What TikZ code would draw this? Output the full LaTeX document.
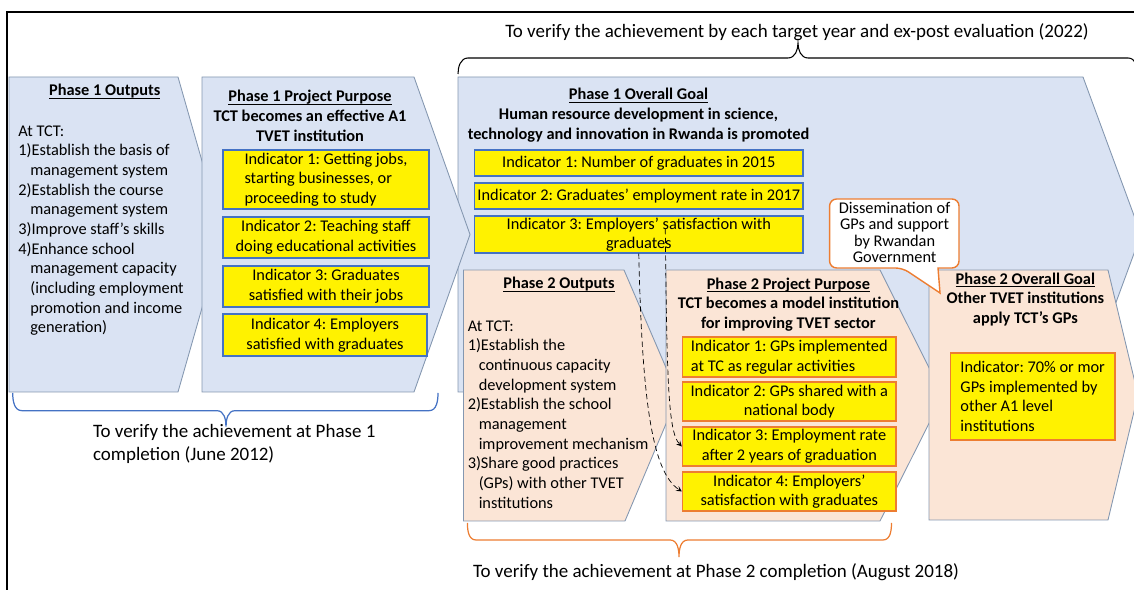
\documentclass[tikz,border=0pt]{standalone}
\usepackage{fontspec}
\setmainfont{Carlito}
\frenchspacing
\definecolor{bluef}{HTML}{DAE3F3}
\definecolor{peachf}{HTML}{FBE5D6}
\definecolor{edgec}{HTML}{8497B0}
\definecolor{indblue}{HTML}{4472C4}
\definecolor{indorange}{HTML}{ED7D31}
\newcommand\ttl[1]{\underline{\smash{\textbf{#1}}}\vphantom{A}}
\newcommand\tightfont{\fontsize{9.3}{9.3}\selectfont\lineskiplimit=-5pt\relax}
\tikzset{>=stealth}
\tikzset{
  bluepent/.style={draw=edgec, fill=bluef, line width=0.5pt},
  peachpent/.style={draw=edgec, fill=peachf, line width=0.5pt},
  indb/.style={draw=indblue, fill=yellow, line width=0.8pt, inner sep=0pt},
  indo/.style={draw=indorange, fill=yellow, line width=0.8pt, inner sep=0pt},
  txt/.style={inner sep=0pt},
  big/.style={inner sep=0pt, font=\fontsize{10.8}{13}\selectfont},
  dasharr/.style={densely dashed, ->, line width=0.4pt},
}

\begin{document}
\begin{tikzpicture}[x=0.02cm, y=-0.02cm, font=\fontsize{9.3}{11.2}\selectfont]
    \useasboundingbox (0,0) rectangle (1134,590);
    \clip (0,0) rectangle (1134,590);
    \draw[line width=1pt] (7,600) -- (7,12) -- (1150,12);
    \draw[line width=0.6pt] (458,74) to[out=90,in=180] (468,58) -- (788,58) to[out=0,in=-90] (798,43)
        to[out=-90,in=180] (808,58) -- (1128,58) to[out=0,in=90] (1138,74);
    \node[big] (T3) at (797,31.7) {To verify the achievement by each target year and ex-post evaluation (2022)};

    \draw[bluepent] (458,77) -- (1083,77) -- (1141,234.5) -- (1083,392) -- (458,392) -- cycle;
    \draw[bluepent] (9,77) -- (178,77) -- (223,234.5) -- (178,392) -- (9,392) -- cycle;
    \draw[bluepent] (202,77) -- (414,77) -- (470,234.5) -- (414,392) -- (202,392) -- cycle;
    \draw[peachpent] (463.5,270) -- (624,270) -- (678,395.5) -- (625,521) -- (463.5,521) -- cycle;
    \draw[peachpent] (666,270) -- (880,270) -- (943,395.5) -- (880,521) -- (666,521) -- cycle;
    \draw[peachpent] (929,270) -- (1108,270) -- (1138,395) -- (1108,520) -- (929,520) -- cycle;

    \node[txt] (PO) at (104.7,92) {\ttl{Phase 1 Outputs}};
    \node[txt, align=left, anchor=west] (POL) at (18,230.5) {At TCT:\\1)Establish the basis of\\\hspace*{0.24cm}management system\\
        2)Establish the course\\\hspace*{0.24cm}management system\\3)Improve staff’s skills\\4)Enhance school\\
        \hspace*{0.24cm}management capacity\\\hspace*{0.24cm}(including employment\\\hspace*{0.24cm}promotion and income\\
        \hspace*{0.24cm}generation)};

    \node[txt, align=center] (PP) at (310,116.5) {\ttl{Phase 1 Project Purpose}\\\textbf{TCT becomes an effective A1}\\\textbf{TVET institution}};
    \node[indb, align=left, minimum width=4.12cm, minimum height=1.18cm] (PI1) at (326,179.5) {Indicator 1: Getting jobs,\\starting businesses, or\\proceeding to study};
    \node[indb, align=center, minimum width=4.12cm, minimum height=0.82cm] (PI2) at (326,237.5) {Indicator 2: Teaching staff\\doing educational activities};
    \node[indb, align=center, minimum width=4.12cm, minimum height=0.82cm] (PI3) at (326,286.5) {Indicator 3: Graduates\\satisfied with their jobs};
    \node[indb, align=center, minimum width=4.08cm, minimum height=0.84cm] (PI4) at (325,335) {Indicator 4: Employers\\satisfied with graduates};

    \node[txt, align=center] (PG) at (638.5,115.5) {\ttl{Phase 1 Overall Goal}\\\textbf{Human resource development in science,}\\\textbf{technology and innovation in Rwanda is promoted}};
    \node[indb, minimum width=6.57cm, minimum height=0.52cm] (GI1) at (638.8,163) {Indicator 1: Number of graduates in 2015};
    \node[indb, minimum width=6.57cm, minimum height=0.52cm] (GI2) at (638.8,196) {Indicator 2: Graduates’ employment rate in 2017};
    \node[indb, align=center, minimum width=6.57cm, minimum height=0.74cm] (GI3) at (638.8,234.5) {Indicator 3: Employers’ satisfaction with\\graduates};

    \node[txt] (QO) at (559,285) {\ttl{Phase 2 Outputs}};
    \node[txt, align=left, anchor=west] (QOL) at (467.4,414.5) {At TCT:\\1)Establish the\\\hspace*{0.22cm}continuous capacity\\
        \hspace*{0.22cm}development system\\2)Establish the school\\\hspace*{0.22cm}management\\
        \hspace*{0.22cm}improvement mechanism\\3)Share good practices\\\hspace*{0.22cm}(GPs) with other TVET\\
        \hspace*{0.22cm}institutions};

    \node[txt, align=center] (QP) at (788.4,305) {\ttl{Phase 2 Project Purpose}\\\textbf{TCT becomes a model institution}\\\textbf{for improving TVET sector}};
    \node[indo, align=left, minimum width=4.27cm, minimum height=0.8cm] (QI1) at (789.3,357) {Indicator 1: GPs implemented\\at TC as regular activities};
    \node[indo, align=center, minimum width=4.27cm, minimum height=0.78cm] (QI2) at (789.3,401.5) {Indicator 2: GPs shared with a\\national body};
    \node[indo, align=center, minimum width=4.27cm, minimum height=0.78cm] (QI3) at (789.3,446.5) {Indicator 3: Employment rate\\after 2 years of graduation};
    \node[indo, align=center, minimum width=4.27cm, minimum height=0.78cm] (QI4) at (789.3,491.5) {Indicator 4: Employers’\\satisfaction with graduates};

    \node[txt, align=center] (QG) at (1025.4,300) {\ttl{Phase 2 Overall Goal}\\\textbf{Other TVET institutions}\\\textbf{apply TCT’s GPs}};
    \node[indo, align=left, minimum width=3.29cm, minimum height=1.74cm] (HI) at (1032.7,396.5) {Indicator: 70\% or mor\\GPs implemented by\\other A1 level\\institutions};

    \draw[draw=indorange, fill=white, line width=0.8pt] (938,268) [rounded corners=4pt] -- (959,268) -- (959,199) -- (829.6,199)
        -- (829.6,268) -- (902.6,268) [sharp corners] -- (940,293) -- cycle;
    \node[txt, align=center, font=\tightfont] (C) at (894.6,232.5) {Dissemination of\\GPs and support\\by Rwandan\\Government};

    \draw[dasharr] (GI3.south) .. controls (642,400) and (652,472) .. (QI4.west);
    \draw[dasharr] ([xshift=0.53cm,yshift=0.11cm]GI3.center) .. controls (667,380) and (668,432) .. (QI3.west);

    \draw[indblue, line width=0.7pt] (12.7,393) to[out=-90,in=180] (22,410.7) -- (217,410.7) to[out=0,in=90] (226,426.7)
        to[out=90,in=180] (235,410.7) -- (429,410.7) to[out=0,in=-90] (438,393);
    \node[big, align=left, anchor=west] (T1) at (92.7,444.2) {To verify the achievement at Phase 1\\completion (June 2012)};
    \draw[indorange, line width=0.7pt] (467.4,523) to[out=-90,in=180] (476,540) -- (670,540) to[out=0,in=90] (679,557)
        to[out=90,in=180] (688,540) -- (883,540) to[out=0,in=-90] (891.5,523);
    \node[big] (T2) at (716,571.7) {To verify the achievement at Phase 2 completion (August 2018)};
\end{tikzpicture}
\end{document}
